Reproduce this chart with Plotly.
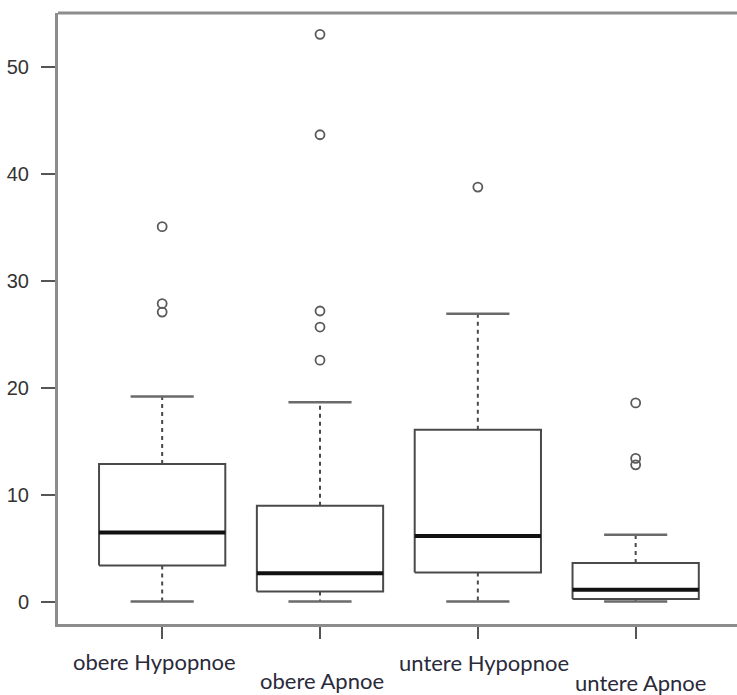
import plotly.graph_objects as go

categories = ["obere Hypopnoe", "obere Apnoe", "untere Hypopnoe", "untere Apnoe"]
lower_whisker = [0.0, 0.0, 0.0, 0.0]
q1 = [3.37, 0.94, 2.72, 0.25]
median = [6.46, 2.66, 6.15, 1.1]
q3 = [12.89, 8.96, 16.08, 3.6]
upper_whisker = [19.19, 18.67, 26.94, 6.25]
outliers = [
    [35.1, 27.9, 27.1],
    [53.1, 43.7, 27.2, 25.7, 22.6],
    [38.8],
    [18.6, 13.4, 12.8],
]
y_ticks = [0, 10, 20, 30, 40, 50]

box_half = 0.4
cap_half = 0.2
box_col = "#4a4a4a"
axis_col = "#8c8c8c"

fig = go.Figure()
for i, name in enumerate(categories):
    x = i + 1
    fig.add_trace(go.Scatter(
        x=[x - box_half, x + box_half, x + box_half, x - box_half, x - box_half],
        y=[q1[i], q1[i], q3[i], q3[i], q1[i]],
        mode="lines", line=dict(color=box_col, width=2), hoverinfo="skip"))
    fig.add_trace(go.Scatter(
        x=[x, x, None, x, x],
        y=[q3[i], upper_whisker[i], None, q1[i], lower_whisker[i]],
        mode="lines", line=dict(color=box_col, width=2, dash="4px,4px"), hoverinfo="skip"))
    fig.add_trace(go.Scatter(
        x=[x - cap_half, x + cap_half, None, x - cap_half, x + cap_half],
        y=[upper_whisker[i], upper_whisker[i], None, lower_whisker[i], lower_whisker[i]],
        mode="lines", line=dict(color="#6a6a6a", width=2.5), hoverinfo="skip"))
    fig.add_trace(go.Scatter(
        x=[x - box_half, x + box_half], y=[median[i], median[i]],
        mode="lines", line=dict(color="#111111", width=4), hoverinfo="skip"))
    fig.add_trace(go.Scatter(
        x=[x] * len(outliers[i]), y=outliers[i], mode="markers",
        marker=dict(symbol="circle-open", size=9, color="#5a5a5a", line=dict(width=1.8)),
        hoverinfo="skip"))

label_yshift = [-37, -56, -38, -58]
label_xshift = [-8, 2, 6, 5]
for i, name in enumerate(categories):
    fig.add_annotation(x=i + 1, y=0, xref="x", yref="paper", text=name,
                       showarrow=False, yanchor="middle",
                       yshift=label_yshift[i], xshift=label_xshift[i],
                       font=dict(family="Lato", size=22, color="#2a2a3a"))

# top border line of the plot frame
fig.add_shape(type="line", xref="paper", yref="paper", x0=0, x1=1, y0=1, y1=1,
              line=dict(color=axis_col, width=3))

fig.update_layout(
    width=737, height=695,
    margin=dict(l=58, r=0, t=13, b=71),
    paper_bgcolor="white", plot_bgcolor="white",
    showlegend=False,
    xaxis=dict(range=[0.34, 4.642], tickvals=[1, 2, 3, 4], ticktext=["", "", "", ""],
               ticks="outside", ticklen=12, tickwidth=2, tickcolor="#555555",
               showline=True, linecolor=axis_col, linewidth=3, mirror=False,
               showgrid=False, zeroline=False, automargin=False),
    yaxis=dict(range=[-2.1, 55.1], tickvals=y_ticks,
               ticks="outside", ticklen=14, tickwidth=2, tickcolor="#555555",
               showline=True, linecolor=axis_col, linewidth=3,
               showgrid=False, zeroline=False, ticklabelstandoff=8, automargin=False,
               tickfont=dict(family="Liberation Sans", size=20, color="#333333")),
)

fig.write_html(
    "out.html",
    config={"displayModeBar": False},
    post_script="document.body.style.margin='0';document.body.style.overflow='hidden';",
)
